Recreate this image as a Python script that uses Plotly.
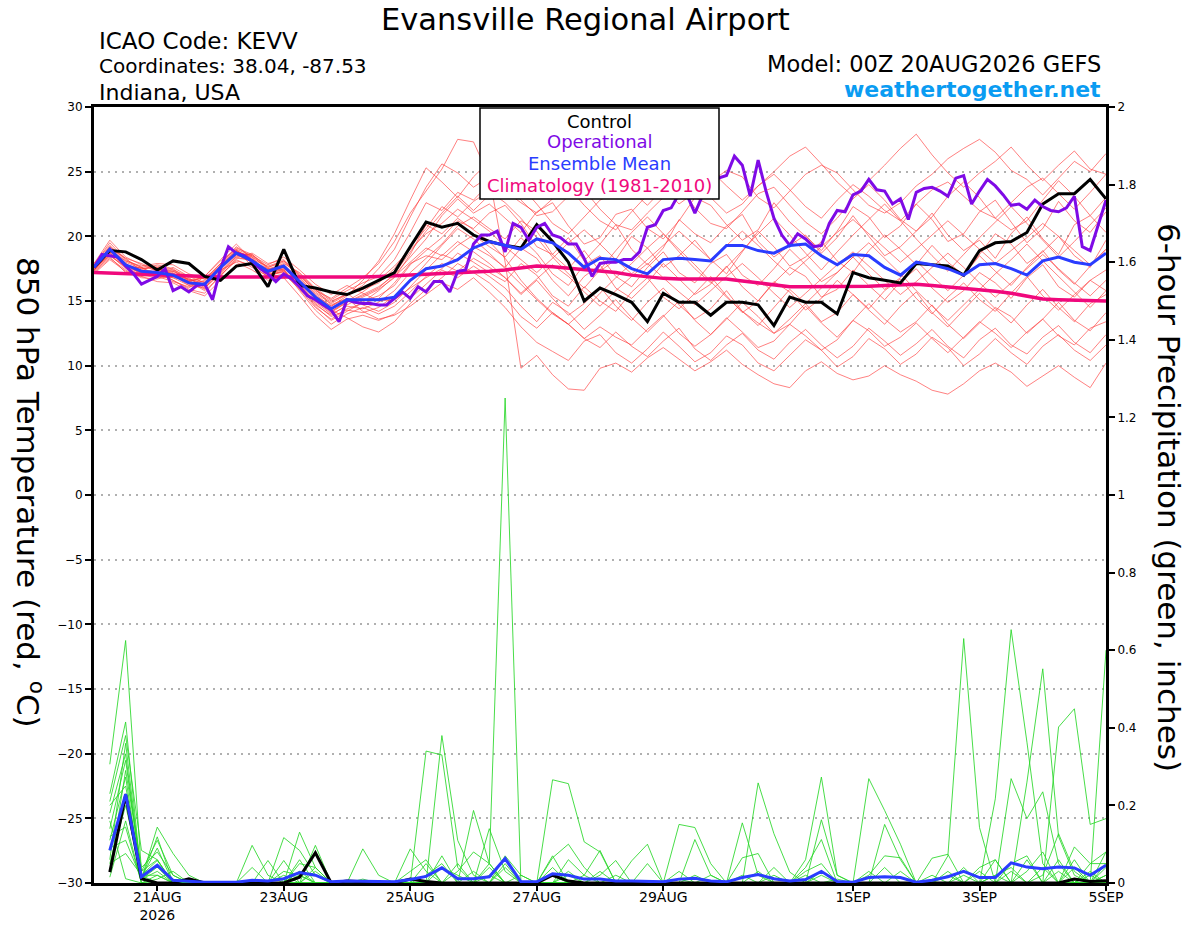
import pandas as pd
import plotly.graph_objects as go

# ---------------- time axes ----------------
t_start = "2026-08-20 00:00"
t_end = "2026-09-05 00:00"
tick_dates = ["2026-08-21", "2026-08-23", "2026-08-25", "2026-08-27",
              "2026-08-29", "2026-09-01", "2026-09-03", "2026-09-05"]
tick_labels = ["21AUG<br>2026", "23AUG", "25AUG", "27AUG", "29AUG", "1SEP", "3SEP", "5SEP"]

# ---------------- 850 hPa temperature (6-hourly, 00Z 20AUG .. 00Z 5SEP) ----------------
control_t = [17.6, 18.9, 18.8, 18.2, 17.4, 18.1, 17.9, 16.9, 16.6, 17.7,
             17.9, 16.1, 19.0, 16.2, 16.0, 15.7, 15.5, 16.0, 16.6, 17.2,
             19.2, 21.1, 20.7, 21.0, 20.1, 19.6, 19.3, 19.1, 20.9, 19.6,
             18.0, 15.0, 16.0, 15.5, 14.9, 13.4, 15.6, 14.9, 14.9, 13.9,
             14.9, 14.9, 14.7, 13.1, 15.3, 14.9, 14.9, 14.0, 17.2, 16.8,
             16.6, 16.4, 17.9, 17.8, 17.7, 17.0, 18.9, 19.5, 19.6, 20.3,
             22.5, 23.3, 23.3, 24.4, 22.9]

mean_t = [17.6, 19.0, 17.8, 17.3, 17.2, 17.0, 16.4, 16.3, 17.6, 18.7,
          18.1, 17.3, 17.7, 16.5, 15.3, 14.4, 15.1, 15.1, 15.1, 15.3,
          16.6, 17.5, 17.7, 18.2, 19.1, 19.6, 19.3, 19.0, 19.8, 19.5,
          18.7, 17.6, 18.3, 18.2, 17.5, 17.1, 18.2, 18.3, 18.2, 18.1,
          19.3, 19.3, 18.9, 18.7, 19.3, 19.4, 18.5, 17.8, 18.6, 18.5,
          17.6, 17.0, 18.0, 17.8, 17.5, 17.0, 17.8, 17.9, 17.5, 17.0,
          18.1, 18.4, 18.0, 17.8, 18.7]

climo_t = [17.2, 17.15, 17.1, 17.05, 17.0, 16.95, 16.9, 16.9, 16.85, 16.85,
           16.85, 16.85, 16.8, 16.8, 16.8, 16.8, 16.8, 16.85, 16.9, 16.95,
           17.0, 17.05, 17.1, 17.15, 17.2, 17.3, 17.4, 17.55, 17.7, 17.65,
           17.55, 17.45, 17.35, 17.2, 17.0, 16.85, 16.75, 16.7, 16.7, 16.7,
           16.7, 16.55, 16.4, 16.2, 16.1, 16.1, 16.1, 16.1, 16.1, 16.15,
           16.2, 16.25, 16.3, 16.2, 16.1, 16.0, 15.9, 15.75, 15.6, 15.35,
           15.15, 15.1, 15.05, 15.05, 15.0]

# operational run, 3-hourly
oper_t = [17.6, 18.6, 18.5, 18.4, 17.7, 17.1, 16.3, 16.6, 16.9, 17.5,
          15.8, 16.1, 15.7, 16.2, 16.3, 15.1, 17.5, 19.2, 18.7, 18.5,
          18.1, 17.5, 17.1, 16.5, 17.1, 16.7, 16.1, 15.4, 15.1, 14.7,
          14.3, 13.4, 15.1, 14.9, 14.8, 14.8, 14.7, 14.7, 15.2, 15.7,
          15.2, 16.1, 15.7, 16.5, 16.5, 15.7, 17.3, 17.4, 19.4, 20.1,
          20.1, 20.4, 18.8, 21.0, 20.7, 19.7, 20.7, 21.0, 20.1, 19.9,
          19.4, 19.4, 18.3, 16.9, 17.9, 18.0, 18.0, 18.2, 18.2, 18.8,
          20.7, 20.9, 22.0, 22.2, 23.3, 23.2, 21.8, 23.2, 23.8, 24.5,
          24.7, 26.2, 25.5, 23.1, 25.9, 23.5, 21.4, 20.1, 19.3, 20.2,
          19.8, 19.2, 19.3, 21.0, 22.0, 21.9, 23.2, 23.5, 24.4, 23.6,
          23.5, 22.5, 22.9, 21.3, 23.4, 23.7, 23.8, 23.5, 23.1, 24.5,
          24.7, 22.5, 23.5, 24.4, 23.9, 23.2, 22.4, 22.5, 22.1, 22.8,
          22.3, 22.0, 21.9, 22.2, 23.1, 19.2, 18.9, 20.9, 22.8]

# ensemble members (temperature)
temp_m01 = [17.8, 19.5, 18.2, 17.6, 17.0, 16.8, 16.2, 16.6, 17.9, 19.2, 18.4, 17.0, 17.5,
            16.8, 15.6, 14.8, 15.5, 16.2, 17.5, 19.0, 21.5, 23.8, 25.6, 24.9, 23.8, 24.6,
            25.2, 23.9, 22.5, 21.0, 20.2, 21.5, 22.8, 23.4, 24.3, 24.9, 23.8, 22.5, 23.4,
            24.2, 25.1, 24.6, 23.0, 22.2, 23.5, 24.8, 25.5, 24.9, 23.6, 22.4, 21.8, 22.6,
            23.9, 24.8, 26.0, 26.8, 27.5, 26.5, 25.1, 24.4, 23.2, 24.5, 25.8, 25.0, 26.4]
temp_m02 = [17.4, 18.6, 17.5, 17.0, 17.4, 17.3, 16.8, 16.0, 17.2, 18.5, 18.6, 17.6, 18.0,
            16.9, 15.8, 15.2, 16.0, 16.8, 17.9, 19.6, 21.8, 23.5, 25.2, 27.5, 27.3, 24.6,
            18.0, 9.8, 10.8, 9.3, 8.2, 8.1, 9.8, 10.2, 9.5, 10.6, 11.4, 10.5, 9.6,
            10.3, 11.2, 10.1, 9.3, 8.6, 8.3, 9.6, 10.3, 9.4, 8.9, 9.2, 10.0, 9.3,
            8.8, 8.1, 7.8, 8.6, 9.6, 10.2, 9.5, 8.4, 9.2, 10.0, 9.1, 8.3, 10.2]
temp_m03 = [17.5, 18.8, 17.9, 17.1, 16.9, 17.3, 16.6, 15.9, 17.8, 19.0, 17.9, 17.4, 17.9,
            17.2, 16.0, 15.1, 15.8, 16.4, 16.9, 18.2, 20.3, 22.6, 22.0, 23.4, 22.8, 24.1,
            23.5, 22.6, 21.8, 22.9, 23.8, 22.4, 21.2, 20.5, 21.9, 23.2, 24.6, 25.3, 24.1,
            23.0, 21.8, 22.5, 23.9, 24.8, 23.6, 22.3, 21.4, 22.8, 24.0, 23.1, 22.0, 21.2,
            22.5, 23.6, 24.2, 23.1, 22.0, 21.4, 22.6, 23.8, 24.5, 23.3, 22.1, 23.4, 24.8]
temp_m04 = [17.7, 19.2, 18.0, 17.5, 17.6, 16.9, 16.5, 16.8, 17.5, 18.9, 18.3, 17.1, 17.2,
            16.1, 15.0, 14.1, 14.9, 15.5, 16.1, 17.0, 18.4, 19.8, 21.6, 22.9, 21.8, 22.5,
            21.4, 20.3, 21.9, 22.6, 20.8, 19.4, 19.9, 21.7, 22.1, 20.6, 19.8, 21.2, 23.0,
            22.4, 20.9, 19.7, 20.5, 22.6, 21.1, 20.0, 18.9, 20.4, 22.3, 21.5, 19.9, 20.8,
            22.5, 21.3, 19.6, 20.2, 21.9, 22.8, 21.1, 19.5, 20.6, 22.7, 21.2, 20.3, 21.9]
temp_m05 = [17.6, 18.9, 17.6, 17.2, 17.5, 17.2, 16.3, 16.2, 17.4, 18.6, 18.0, 17.5, 17.8,
            16.7, 15.5, 14.6, 15.2, 15.0, 15.4, 16.2, 17.8, 18.9, 19.9, 21.2, 20.6, 21.8,
            22.4, 21.0, 19.2, 18.6, 19.9, 18.1, 19.4, 20.9, 19.0, 17.8, 19.1, 21.3, 20.2,
            19.5, 20.8, 21.7, 19.6, 18.4, 19.3, 20.1, 18.7, 19.9, 21.6, 20.0, 18.5, 19.2,
            20.4, 21.8, 20.1, 18.9, 19.7, 18.3, 20.2, 21.5, 19.8, 18.6, 20.9, 21.6, 20.3]
temp_m06 = [17.3, 18.4, 17.2, 16.9, 17.1, 17.6, 16.9, 16.4, 17.0, 18.1, 17.8, 17.2, 17.6,
            16.3, 14.9, 14.0, 14.6, 14.4, 14.9, 15.8, 17.2, 18.3, 19.4, 20.8, 21.5, 20.6,
            19.8, 21.2, 20.4, 18.6, 17.5, 18.9, 17.3, 18.2, 20.0, 19.1, 17.6, 18.5, 19.7,
            18.2, 17.1, 18.8, 20.4, 19.2, 17.7, 18.4, 19.6, 18.1, 17.2, 18.9, 20.1, 19.0,
            17.8, 19.3, 18.0, 17.0, 18.6, 20.2, 19.4, 17.9, 18.8, 20.0, 18.5, 17.6, 19.7]
temp_m07 = [17.9, 19.7, 18.4, 17.8, 17.3, 16.6, 16.0, 16.9, 18.2, 19.4, 18.2, 16.8, 17.1,
            15.9, 14.5, 13.6, 14.4, 14.8, 15.2, 16.4, 17.9, 18.5, 18.2, 19.3, 20.1, 19.2,
            18.4, 19.9, 18.7, 17.1, 16.2, 17.8, 18.5, 16.9, 16.1, 17.6, 18.8, 17.2, 16.4,
            17.9, 18.6, 17.0, 16.2, 17.5, 19.0, 17.8, 16.5, 17.2, 18.4, 17.1, 15.9, 16.8,
            18.1, 16.9, 15.8, 17.0, 18.5, 17.3, 16.2, 17.6, 18.9, 17.4, 16.3, 17.7, 19.0]
temp_m08 = [17.2, 18.3, 17.4, 16.8, 16.7, 17.0, 16.7, 16.1, 17.3, 18.4, 18.7, 17.9, 18.2,
            17.0, 15.7, 14.9, 15.6, 14.7, 14.2, 14.9, 16.1, 17.4, 18.6, 18.1, 19.2, 18.5,
            17.6, 19.1, 18.3, 16.6, 15.4, 16.9, 17.8, 16.0, 15.2, 16.4, 17.9, 16.7, 15.5,
            16.3, 17.7, 16.1, 15.0, 16.4, 17.6, 16.9, 15.3, 15.9, 17.4, 16.2, 15.1, 16.5,
            17.5, 16.0, 14.9, 15.8, 17.2, 16.4, 15.2, 16.8, 17.8, 16.1, 15.3, 16.6, 17.4]
temp_m09 = [17.6, 19.0, 17.8, 17.4, 17.8, 17.5, 16.6, 16.5, 17.7, 18.8, 18.5, 17.8, 18.4,
            17.4, 16.3, 15.5, 16.2, 15.6, 15.0, 15.1, 16.0, 16.8, 17.5, 18.7, 18.0, 17.2,
            16.5, 17.9, 17.0, 15.4, 14.6, 16.1, 15.0, 14.2, 15.7, 16.8, 15.3, 14.4, 15.6,
            16.9, 15.4, 14.1, 15.0, 16.5, 15.7, 14.3, 15.2, 16.6, 15.5, 14.4, 15.8, 16.7,
            15.2, 14.0, 15.3, 16.4, 15.1, 14.2, 15.6, 16.9, 15.4, 14.3, 15.5, 16.6, 15.8]
temp_m10 = [17.4, 18.7, 17.7, 17.3, 17.1, 16.6, 15.9, 15.6, 17.0, 18.2, 17.6, 16.9, 17.4,
            15.8, 14.3, 13.2, 14.0, 14.5, 14.0, 14.6, 15.7, 16.9, 17.9, 17.3, 18.3, 17.6,
            16.8, 15.5, 16.6, 15.2, 13.9, 14.8, 16.1, 14.6, 13.5, 14.9, 16.0, 14.7, 13.6,
            14.4, 15.8, 14.2, 13.1, 14.5, 15.9, 14.8, 13.4, 14.1, 15.5, 14.3, 13.2, 14.6,
            15.7, 14.1, 13.0, 14.3, 15.6, 14.4, 13.3, 14.7, 15.9, 14.5, 13.4, 14.8, 15.5]
temp_m11 = [17.9, 19.3, 18.1, 17.7, 17.9, 17.8, 17.1, 16.7, 17.4, 18.0, 17.4, 16.6, 16.8,
            15.4, 13.9, 12.8, 13.6, 13.9, 13.5, 14.0, 15.2, 16.3, 17.4, 16.8, 17.7, 16.9,
            16.0, 14.6, 13.4, 14.9, 14.1, 12.8, 13.9, 15.1, 13.7, 12.6, 13.8, 15.0, 13.5,
            12.4, 13.6, 14.9, 13.8, 12.5, 13.2, 14.6, 13.3, 12.2, 13.5, 14.8, 13.6, 12.6,
            13.4, 14.7, 13.2, 12.1, 13.3, 14.5, 13.8, 12.5, 13.6, 14.9, 13.5, 12.7, 14.1]
temp_m12 = [17.1, 18.2, 17.3, 16.9, 16.5, 16.4, 15.8, 15.4, 16.6, 17.8, 17.9, 17.3, 17.6,
            16.4, 15.2, 14.3, 13.7, 13.0, 12.6, 13.4, 14.8, 15.9, 16.8, 17.9, 17.2, 16.4,
            15.3, 13.8, 12.9, 14.1, 13.2, 12.1, 13.0, 12.2, 11.6, 12.8, 13.9, 12.5, 11.5,
            12.4, 13.7, 12.6, 11.4, 11.9, 13.2, 12.3, 11.2, 12.0, 13.5, 12.7, 11.5, 12.2,
            13.3, 12.1, 11.0, 12.2, 13.4, 12.5, 11.4, 12.6, 13.6, 12.3, 11.6, 12.9, 13.4]
temp_m13 = [17.5, 18.5, 17.6, 17.6, 17.7, 17.4, 16.5, 15.8, 16.9, 18.3, 18.2, 17.7, 18.1,
            17.1, 15.9, 14.7, 15.2, 14.2, 13.6, 13.9, 14.6, 15.5, 16.4, 15.9, 16.8, 15.7,
            14.5, 13.0, 11.8, 11.1, 10.4, 11.9, 12.4, 11.0, 10.2, 11.3, 12.6, 11.5, 10.3,
            11.0, 12.3, 11.6, 10.2, 9.6, 10.8, 12.0, 11.2, 9.9, 10.7, 12.1, 11.3, 10.1,
            10.9, 12.2, 11.4, 10.0, 10.9, 12.1, 11.0, 10.1, 11.5, 12.4, 11.2, 10.4, 11.6]
temp_m14 = [17.8, 19.1, 18.3, 17.9, 17.4, 17.1, 16.4, 16.3, 17.6, 18.6, 18.0, 17.2, 17.4,
            16.0, 14.7, 13.9, 14.7, 15.3, 15.9, 16.8, 18.6, 20.9, 20.2, 21.4, 20.5, 19.6,
            18.3, 16.6, 15.2, 14.1, 13.2, 12.1, 11.4, 12.6, 11.5, 10.7, 11.9, 12.9, 11.3,
            10.4, 11.6, 12.5, 11.2, 10.5, 11.8, 12.8, 11.6, 10.6, 11.5, 12.9, 11.9, 10.8,
            11.7, 12.8, 11.5, 10.6, 12.0, 12.9, 11.6, 10.9, 12.2, 13.1, 11.8, 11.0, 12.4]
temp_m15 = [17.6, 18.8, 17.9, 17.0, 16.8, 17.1, 16.5, 16.9, 18.1, 19.0, 18.5, 17.4, 17.7,
            16.6, 15.4, 14.6, 15.4, 16.6, 18.1, 20.2, 22.8, 25.3, 24.2, 23.0, 24.6, 25.8,
            26.2, 25.3, 24.1, 23.0, 24.2, 25.4, 26.1, 24.8, 23.5, 22.4, 23.7, 24.9, 26.0,
            25.1, 23.9, 22.8, 23.9, 25.0, 26.2, 26.9, 25.6, 24.2, 23.1, 24.3, 25.5, 26.8,
            27.9, 26.3, 24.9, 23.8, 24.9, 25.8, 26.9, 25.5, 24.3, 25.5, 26.6, 25.2, 24.8]
temp_m16 = [17.3, 18.5, 17.7, 17.2, 17.3, 17.1, 16.7, 16.3, 17.5, 18.8, 18.4, 17.6, 18.1,
            17.0, 15.9, 15.0, 15.5, 15.9, 16.4, 17.5, 19.2, 20.6, 22.3, 21.5, 22.7, 23.5,
            22.6, 21.4, 19.9, 18.4, 17.1, 16.0, 17.4, 18.9, 20.3, 21.5, 20.2, 18.8, 17.5,
            16.4, 17.6, 18.9, 20.2, 21.4, 20.1, 18.7, 17.4, 18.8, 20.1, 21.3, 22.5, 21.2,
            19.8, 18.5, 17.3, 18.6, 19.9, 21.1, 22.3, 21.0, 19.7, 18.4, 19.6, 20.9, 22.2]
temp_m17 = [17.5, 18.9, 18.1, 17.6, 16.9, 16.5, 16.1, 16.4, 17.8, 18.9, 17.7, 16.9, 17.3,
            16.2, 14.8, 13.8, 14.3, 14.1, 14.5, 15.4, 16.5, 17.9, 19.3, 20.6, 19.8, 18.7,
            17.5, 16.3, 15.1, 14.0, 13.2, 14.3, 15.6, 16.8, 17.9, 19.1, 20.2, 19.0, 17.8,
            16.5, 15.3, 14.2, 13.3, 12.5, 13.6, 14.8, 16.0, 17.2, 18.4, 19.5, 18.3, 17.1,
            15.8, 14.6, 13.5, 14.7, 15.9, 17.1, 18.2, 19.4, 18.1, 16.9, 15.7, 14.5, 15.8]
temp_m18 = [17.7, 19.0, 17.6, 17.0, 17.2, 17.4, 16.9, 16.7, 17.9, 19.1, 18.6, 17.5, 17.4,
            16.3, 15.1, 14.2, 14.9, 15.4, 16.0, 17.1, 18.8, 20.4, 21.8, 23.1, 22.0, 23.2,
            24.3, 22.8, 21.6, 21.9, 23.1, 23.6, 22.1, 20.9, 20.5, 21.8, 23.0, 23.9, 22.2,
            21.0, 20.6, 21.9, 23.3, 23.8, 22.4, 21.1, 20.2, 21.4, 22.9, 24.0, 22.8, 21.3,
            20.4, 21.5, 23.1, 24.2, 23.0, 21.4, 20.5, 21.2, 22.8, 24.3, 23.1, 21.6, 23.0]
temp_m19 = [17.4, 18.7, 17.8, 17.5, 17.6, 17.0, 16.2, 16.0, 17.1, 18.4, 18.1, 17.0, 17.3,
            16.1, 14.6, 13.5, 14.2, 14.9, 15.8, 16.9, 18.0, 19.1, 18.5, 19.6, 18.8, 17.9,
            16.8, 15.6, 16.7, 17.8, 16.9, 15.7, 14.6, 15.8, 16.9, 17.9, 16.8, 15.7, 14.7,
            15.8, 16.9, 17.9, 16.8, 15.6, 14.5, 15.6, 16.7, 17.8, 18.8, 17.7, 16.6, 15.5,
            16.5, 17.6, 18.7, 17.6, 16.4, 15.3, 16.4, 17.5, 18.6, 17.5, 16.4, 15.4, 16.6]
temp_m20 = [17.6, 19.2, 18.3, 17.3, 16.9, 16.8, 16.6, 16.8, 17.7, 18.9, 18.2, 17.2, 17.5,
            16.5, 15.2, 14.2, 15.0, 15.7, 16.6, 17.7, 19.0, 20.2, 21.0, 22.1, 21.3, 20.4,
            19.2, 18.2, 17.2, 18.3, 19.5, 20.5, 19.4, 18.2, 17.1, 18.2, 19.3, 20.4, 19.3,
            18.2, 19.3, 20.4, 19.3, 18.1, 17.0, 18.1, 19.2, 20.3, 21.3, 20.2, 19.1, 18.0,
            19.0, 20.1, 21.2, 20.1, 19.0, 17.9, 18.9, 19.9, 21.0, 20.0, 18.9, 17.8, 19.0]
temp_members = [temp_m01, temp_m02, temp_m03, temp_m04, temp_m05, temp_m06, temp_m07,
                temp_m08, temp_m09, temp_m10, temp_m11, temp_m12, temp_m13, temp_m14,
                temp_m15, temp_m16, temp_m17, temp_m18, temp_m19, temp_m20]

# ---------------- 6-hour precipitation (06Z 20AUG .. 00Z 5SEP, 64 steps) ----------------
control_p = [0.028, 0.226, 0.011, 0, 0, 0.011, 0, 0, 0, 0,
             0, 0, 0.015, 0.078, 0, 0.005, 0.003, 0, 0, 0.01,
             0.004, 0, 0, 0, 0, 0, 0, 0, 0.02, 0.005,
             0, 0, 0, 0, 0, 0, 0, 0, 0, 0,
             0, 0, 0, 0, 0, 0, 0, 0, 0, 0,
             0, 0, 0, 0, 0, 0, 0, 0, 0, 0,
             0, 0.01, 0.004, 0.006]
mean_p = [0.084, 0.229, 0.016, 0.046, 0.007, 0.005, 0.002, 0.002, 0.002, 0.007,
          0.005, 0.011, 0.027, 0.020, 0.003, 0.005, 0.004, 0.003, 0.003, 0.009,
          0.017, 0.039, 0.011, 0.011, 0.016, 0.063, 0.003, 0.003, 0.024, 0.020,
          0.010, 0.010, 0.005, 0.005, 0.004, 0.003, 0.010, 0.012, 0.005, 0.003,
          0.014, 0.022, 0.011, 0.005, 0.009, 0.030, 0.004, 0.002, 0.014, 0.016,
          0.014, 0.002, 0.007, 0.016, 0.030, 0.014, 0.014, 0.052, 0.041, 0.037,
          0.041, 0.039, 0.020, 0.046]

# member precipitation: {step index: inches}, all other steps are 0
precip_m01 = {0: .306, 1: .625, 2: .03, 3: .11, 4: .02, 12: .03, 13: .02, 20: .34, 21: .33, 22: .04,
              28: .02, 36: .01, 45: .02, 53: .07, 54: .63, 55: .143, 63: .02}
precip_m02 = {0: .23, 1: .415, 2: .01, 3: .144, 4: .076, 5: .02, 11: .058, 21: .38, 22: .11, 23: .02,
              29: .02, 40: .155, 41: .02, 56: .217, 57: .653, 58: .363, 59: .05, 63: .6}
precip_m03 = {0: .21, 1: .38, 2: .084, 3: .06, 9: .097, 10: .02, 12: .131, 13: .04, 23: .187, 24: .05,
              25: 1.25, 44: .06, 45: .273, 46: .02, 58: .26, 59: .552, 60: .12, 61: .02}
precip_m04 = {0: .18, 1: .333, 2: .01, 3: .119, 11: .117, 12: .084, 13: .02, 24: .14, 25: .03,
              28: .266, 29: .256, 30: .106, 31: .08, 48: .269, 49: .187, 50: .1,
              60: .402, 61: .449, 62: .151, 63: .166}
precip_m05 = {0: .14, 1: .316, 2: .02, 3: .058, 13: .097, 19: .088, 20: .03, 25: .05,
              36: .151, 37: .143, 38: .05, 49: .151, 50: .06, 57: .269, 58: .166, 59: .235, 60: .05, 62: .02}
precip_m06 = {0: .11, 1: .273, 2: .01, 3: .041, 12: .05, 13: .04, 21: .07, 24: .05, 33: .057, 34: .1,
              41: .258, 42: .127, 43: .028, 52: .064, 53: .074, 55: .04, 56: .06, 61: .093, 62: .05, 63: .05}
precip_m07 = {0: .084, 1: .23, 3: .02, 9: .04, 16: .088, 17: .02, 28: .065, 29: .1, 30: .04,
              37: .112, 38: .02, 45: .163, 46: .02, 48: .02, 49: .07, 50: .065, 54: .02, 58: .06, 63: .08}
precip_m08 = {0: .05, 1: .2, 2: .02, 3: .02, 10: .058, 12: .03, 22: .03, 23: .08, 24: .05, 31: .02, 32: .058,
              40: .065, 41: .076, 44: .04, 45: .112, 56: .02, 57: .04, 59: .02, 60: .127, 61: .03}
precip_m09 = {0: .015, 1: .16, 3: .01, 4: .03, 11: .03, 12: .02, 20: .02, 21: .05, 25: .04, 30: .02,
              31: .084, 42: .04, 53: .03, 56: .06, 62: .05, 63: .08}
precip_m10 = {0: .12, 1: .144, 13: .04, 19: .03, 20: .06, 28: .07, 34: .05, 44: .03, 45: .05, 50: .03,
              58: .03, 59: .08, 63: .04}
precip_m11 = {0: .09, 1: .11, 2: .01, 3: .03, 12: .02, 24: .04, 26: .02, 36: .03, 41: .03, 49: .04,
              55: .03, 61: .04}
precip_m12 = {0: .05, 1: .076, 2: .02, 21: .04, 22: .02, 29: .03, 37: .02, 45: .03, 57: .05, 58: .07, 62: .03}
precip_m13 = {0: .16, 1: .011, 16: .01, 23: .03, 29: .06, 30: .02, 40: .02, 48: .03, 53: .02, 60: .03, 63: .02}
precip_m14 = {0: .03, 1: .29, 2: .04, 3: .08, 4: .02, 13: .03, 24: .02, 28: .04, 42: .02, 52: .02,
              57: .03, 61: .06}
precip_m15 = {0: .06, 1: .36, 2: .015, 3: .09, 12: .06, 22: .05, 31: .03, 38: .02, 46: .01, 56: .02, 59: .04}
precip_m16 = {0: .2, 1: .25, 2: .03, 3: .06, 11: .02, 20: .05, 25: .07, 26: .02, 32: .02, 44: .02,
              54: .04, 60: .06, 63: .05}
precip_members = [precip_m01, precip_m02, precip_m03, precip_m04, precip_m05, precip_m06,
                  precip_m07, precip_m08, precip_m09, precip_m10, precip_m11, precip_m12,
                  precip_m13, precip_m14, precip_m15, precip_m16]

# ---------------- build ----------------
t6 = pd.date_range(t_start, t_end, freq="6h")
t3 = pd.date_range(t_start, t_end, freq="3h")
tp = t6[1:]

C_OPER = "#7f0ae6"
C_MEAN = "#2a3cff"
C_CLIM = "#f0087c"
C_RED = "rgba(255,60,60,0.72)"
C_GREEN = "rgba(40,215,40,0.95)"
FONT = "DejaVu Sans, Verdana, sans-serif"

fig = go.Figure()

for m in temp_members:
    fig.add_trace(go.Scatter(x=t6[:len(m)], y=m, mode="lines",
                             line=dict(color=C_RED, width=0.9), hoverinfo="skip"))

for d in precip_members:
    vals = [d.get(i, 0.0) for i in range(len(tp))]
    fig.add_trace(go.Scatter(x=tp, y=vals, mode="lines", yaxis="y2",
                             line=dict(color=C_GREEN, width=0.9), hoverinfo="skip"))

fig.add_trace(go.Scatter(x=tp[:len(control_p)], y=control_p, mode="lines", yaxis="y2",
                         line=dict(color="black", width=3)))
fig.add_trace(go.Scatter(x=tp[:len(mean_p)], y=mean_p, mode="lines", yaxis="y2",
                         line=dict(color=C_MEAN, width=3)))

fig.add_trace(go.Scatter(x=t6[:len(climo_t)], y=climo_t, mode="lines",
                         line=dict(color=C_CLIM, width=3.5)))
fig.add_trace(go.Scatter(x=t6[:len(control_t)], y=control_t, mode="lines",
                         line=dict(color="black", width=3)))
fig.add_trace(go.Scatter(x=t3[:len(oper_t)], y=oper_t, mode="lines",
                         line=dict(color=C_OPER, width=3)))
fig.add_trace(go.Scatter(x=t6[:len(mean_t)], y=mean_t, mode="lines",
                         line=dict(color=C_MEAN, width=3)))

# the page body margin is removed (post_script below), so the figure fills the window
W, H = 1200, 927
L, R, T, B = 94, W - 1106, 107, H - 883
pw, ph = W - L - R, H - T - B


def px(xp):
    return (xp - L) / pw


def py(yp):
    return (H - B - yp) / ph


fig.update_layout(
    width=W, height=H,
    margin=dict(l=L, r=R, t=T, b=B, pad=0, autoexpand=False),
    paper_bgcolor="white", plot_bgcolor="white",
    showlegend=False,
    font=dict(family=FONT, color="black", size=12),
    xaxis=dict(type="date", range=[t_start, t_end], automargin=False,
               tickvals=tick_dates, ticktext=tick_labels,
               showgrid=False, zeroline=False,
               showline=True, linecolor="black", linewidth=3, mirror=True,
               ticks="outside", ticklen=5, tickwidth=1.5, tickcolor="black",
               ticklabelstandoff=-6,
               tickfont=dict(size=14, family=FONT)),
    yaxis=dict(range=[-30, 30], tickmode="linear", tick0=-30, dtick=5, automargin=False,
               showgrid=True, gridcolor="#b0b0b0", griddash="2px,5px", gridwidth=1.5,
               zeroline=False, showline=True, linecolor="black", linewidth=3,
               ticks="outside", ticklen=6, tickwidth=1.5, tickcolor="black",
               tickfont=dict(size=12, family=FONT)),
    yaxis2=dict(range=[0, 2], tickmode="linear", tick0=0, dtick=0.2, automargin=False,
                overlaying="y", side="right", showgrid=False, zeroline=False,
                showline=True, linecolor="black", linewidth=3,
                ticks="outside", ticklen=6, tickwidth=1.5, tickcolor="black",
                tickfont=dict(size=12, family=FONT)),
)

# legend box
fig.add_shape(type="rect", xref="paper", yref="paper",
              x0=px(480), x1=px(719), y0=py(199), y1=py(108),
              fillcolor="white", line=dict(color="black", width=1.5), layer="above")

ann = [
    dict(text="Evansville Regional Airport", x=px(585), y=py(20), xanchor="center",
         yanchor="middle", font=dict(size=30.5)),
    dict(text="ICAO Code: KEVV", x=px(97), y=py(41), xanchor="left", yanchor="middle",
         font=dict(size=23)),
    dict(text="Coordinates: 38.04, -87.53", x=px(97), y=py(66), xanchor="left",
         yanchor="middle", font=dict(size=20)),
    dict(text="Indiana, USA", x=px(97), y=py(92), xanchor="left", yanchor="middle",
         font=dict(size=22)),
    dict(text="Model: 00Z 20AUG2026 GEFS", x=px(1103), y=py(64), xanchor="right",
         yanchor="middle", font=dict(size=22.5)),
    dict(text="<b>weathertogether.net</b>", x=px(1103), y=py(89), xanchor="right",
         yanchor="middle", font=dict(size=22, color="#0a9cf2")),
    dict(text="850 hPa Temperature (red, <sup>o</sup>C)", x=px(30), y=py(492),
         xanchor="center", yanchor="middle", textangle=90, font=dict(size=31)),
    dict(text="6-hour Precipitation (green, inches)", x=px(1169), y=py(497),
         xanchor="center", yanchor="middle", textangle=90, font=dict(size=31)),
    dict(text="Control", x=px(599.5), y=py(121), xanchor="center", yanchor="middle",
         font=dict(size=18, color="black")),
    dict(text="Operational", x=px(599.5), y=py(142), xanchor="center", yanchor="middle",
         font=dict(size=18, color=C_OPER)),
    dict(text="Ensemble Mean", x=px(599.5), y=py(164), xanchor="center", yanchor="middle",
         font=dict(size=18, color=C_MEAN)),
    dict(text="Climatology (1981-2010)", x=px(599.5), y=py(186), xanchor="center",
         yanchor="middle", font=dict(size=18, color=C_CLIM)),
]
for a in ann:
    a.update(xref="paper", yref="paper", showarrow=False)
    fig.add_annotation(**a)

fig.write_html("out.html",
               config={"displayModeBar": False},
               post_script="document.body.style.margin='0';document.body.style.overflow='hidden';")
